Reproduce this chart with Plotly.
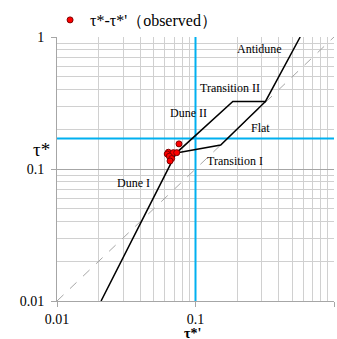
import numpy as np
import plotly.graph_objects as go

# Observed dimensionless shear stress pairs (tau*' , tau*)
obs_tau_prime = [0.0637, 0.0625, 0.0692, 0.0732, 0.0647, 0.0673, 0.0655, 0.076]
obs_tau = [0.134, 0.130, 0.133, 0.133, 0.125, 0.120, 0.115, 0.155]

# Bed-form regime boundaries
upper_x = [0.0208, 0.0725, 0.186, 0.32, 0.57]
upper_y = [0.01, 0.132, 0.325, 0.325, 1.0]
lower_x = [0.0725, 0.152, 0.32]
lower_y = [0.132, 0.152, 0.325]

# Reference line tau* = tau*'
diag = [0.01, 1.0]

# Threshold lines
tau_prime_crit = 0.1
tau_crit = 0.17

# Regime labels
region_names = ["Antidune", "Transition II", "Dune II", "Flat", "Transition I", "Dune I"]
region_x = [0.292, 0.177, 0.0897, 0.297, 0.193, 0.0354]
region_y = [0.816, 0.408, 0.267, 0.204, 0.1146, 0.0777]

major_ticks = [0.01, 0.1, 1]
tick_text = ["0.01", "0.1", "1"]
minor_ticks = [m * 10.0 ** e for e in (-2, -1) for m in range(2, 10)]

SERIF = "Liberation Serif"
BLUE = "#00b0f0"

fig = go.Figure()

fig.add_trace(go.Scatter(x=diag, y=diag, mode="lines",
                         line=dict(color="#a6a6a6", width=1, dash="dash"),
                         showlegend=False, hoverinfo="skip"))
fig.add_trace(go.Scatter(x=[tau_prime_crit, tau_prime_crit], y=[0.01, 1], mode="lines",
                         line=dict(color=BLUE, width=2), showlegend=False))
fig.add_trace(go.Scatter(x=[0.01, 1], y=[tau_crit, tau_crit], mode="lines",
                         line=dict(color=BLUE, width=2), showlegend=False))
fig.add_trace(go.Scatter(x=upper_x, y=upper_y, mode="lines",
                         line=dict(color="black", width=1.5), showlegend=False))
fig.add_trace(go.Scatter(x=lower_x, y=lower_y, mode="lines",
                         line=dict(color="black", width=1.5), showlegend=False))
fig.add_trace(go.Scatter(x=obs_tau_prime, y=obs_tau, mode="markers",
                         name="τ*-τ*'（observed）",
                         marker=dict(color="#ff0000", size=6,
                                     line=dict(color="#7f0000", width=1))))

for name, xv, yv in zip(region_names, region_x, region_y):
    fig.add_annotation(x=np.log10(xv), y=np.log10(yv), text=name, showarrow=False,
                       font=dict(family=SERIF, size=12, color="black"))

fig.add_annotation(xref="paper", yref="paper", x=-0.094, y=0.574, text="τ*",
                   showarrow=False, font=dict(family=SERIF, size=19, color="black"))
fig.add_annotation(xref="paper", yref="paper", x=0.49, y=-0.092, yanchor="top",
                   text="<b>τ*'</b>", showarrow=False, borderpad=0,
                   font=dict(family=SERIF, size=14, color="black"))

axis_common = dict(
    type="log", range=[-2, 0], tickvals=major_ticks, ticktext=tick_text,
    showgrid=True, gridcolor="#a6a6a6", gridwidth=1,
    minor=dict(tickvals=minor_ticks, showgrid=True, gridcolor="#d0d0d0", gridwidth=1),
    ticks="outside", ticklen=5, tickcolor="#a6a6a6",
    showline=True, linecolor="#a6a6a6", linewidth=1, mirror=False,
    zeroline=False, tickfont=dict(family=SERIF, size=14, color="black"),
)

fig.update_layout(
    width=337, height=339,
    margin=dict(l=57, r=3, t=29, b=38),
    paper_bgcolor="white", plot_bgcolor="white",
    xaxis=axis_common,
    yaxis=dict(axis_common, ticklabelstandoff=4),
    legend=dict(orientation="h", x=-0.025, y=1.0, xanchor="left", yanchor="bottom",
                font=dict(family=SERIF, size=16, color="black"),
                itemwidth=30, bgcolor="rgba(0,0,0,0)"),
    showlegend=True,
)

fig.write_html("out.html")
